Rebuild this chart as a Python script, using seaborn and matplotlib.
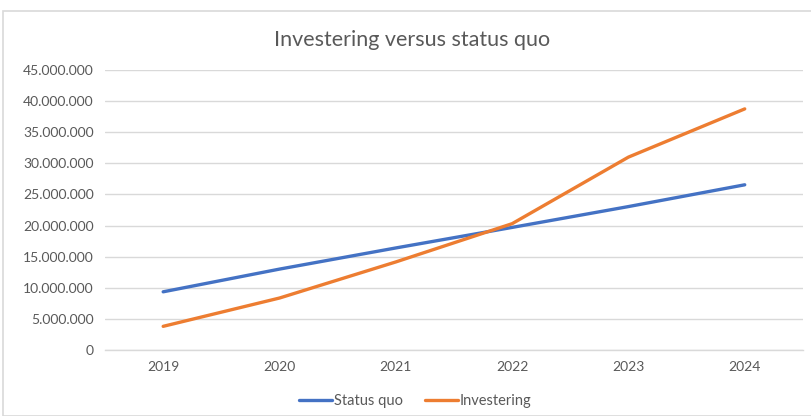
#!/usr/bin/env python3

import pandas as pd
import matplotlib.pyplot as plt
import seaborn as sns
from matplotlib.ticker import FuncFormatter, MultipleLocator
from matplotlib.patches import Rectangle

years = ["2019", "2020", "2021", "2022", "2023", "2024"]
status_quo = [9_350_000, 13_000_000, 16_400_000, 19_700_000, 23_050_000, 26_550_000]
investering = [3_800_000, 8_350_000, 14_150_000, 20_300_000, 31_000_000, 38_750_000]
series_names = ["Status quo", "Investering"]
series_colors = ["#4472C4", "#ED7D31"]

df = pd.DataFrame({
    "jaar": years * 2,
    "waarde": status_quo + investering,
    "serie": [series_names[0]] * len(years) + [series_names[1]] * len(years),
})

sns.set_theme(style="white")
plt.rcParams["font.family"] = ["Lato", "DejaVu Sans"]
text_color = "#595959"
grid_color = "#D9D9D9"

fig = plt.figure(figsize=(8.11, 4.16), dpi=100)
ax = fig.add_axes([0.1295, 0.1587, 0.8605, 0.673])

sns.lineplot(data=df, x="jaar", y="waarde", hue="serie",
             palette=series_colors, linewidth=2.4, sort=False, ax=ax)

ax.set_xlim(-0.5, len(years) - 0.5)
ax.set_ylim(0, 45_000_000)
ax.yaxis.set_major_locator(MultipleLocator(5_000_000))
ax.yaxis.set_major_formatter(FuncFormatter(lambda v, p: f"{v:,.0f}".replace(",", ".")))
ax.grid(axis="y", color=grid_color, linewidth=1)
ax.set_axisbelow(True)
for s in ["top", "right", "left"]:
    ax.spines[s].set_visible(False)
ax.spines["bottom"].set_color(grid_color)
ax.spines["bottom"].set_linewidth(1)
ax.tick_params(axis="both", length=0, labelsize=10, colors=text_color, pad=8)
ax.set_xlabel("")
ax.set_ylabel("")

ax.legend_.remove()
handles, labels = ax.get_legend_handles_labels()
fig.legend(handles, labels, loc="lower center", bbox_to_anchor=(0.512, -0.012), ncol=2,
           frameon=False, fontsize=10.5, labelcolor=text_color, handlelength=2.3,
           handletextpad=0.1, columnspacing=1.5)

fig.text(0.508, 0.905, "Investering versus status quo", ha="center", va="center",
         fontsize=15.5, color=text_color)

fig.patches.append(Rectangle((0.004, 0.0), 1.0, 0.973, transform=fig.transFigure,
                             fill=False, edgecolor=grid_color, linewidth=1.2))

fig.savefig("out.png", dpi=100)
plt.close()
